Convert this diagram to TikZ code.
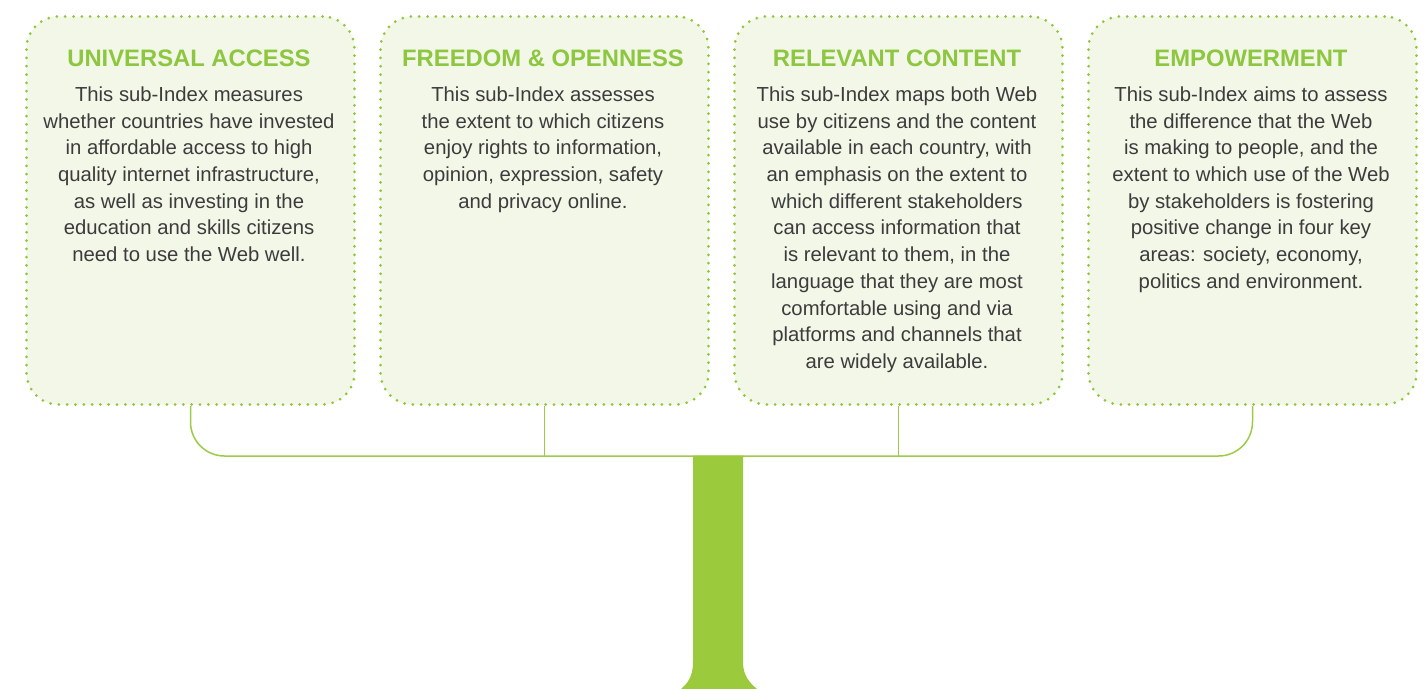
\documentclass[tikz,border=0pt]{standalone}
\usepackage{fontspec}
\setmainfont{Liberation Sans}
\definecolor{boxfill}{HTML}{F2F7E8}
\definecolor{dotgreen}{HTML}{8FC63A}
\definecolor{titlegreen}{HTML}{8DC63F}
\definecolor{linegreen}{HTML}{9CCB45}
\definecolor{trunkgreen}{HTML}{9BCA3C}
\definecolor{bodygray}{HTML}{3C3C3C}
\begin{document}
\begin{tikzpicture}[x=1pt,y=-1pt,
  subbox/.style={draw=dotgreen, fill=boxfill, rounded corners=32pt, line width=3pt,
    dash pattern=on 0pt off 8.3pt, line cap=round, minimum width=328pt, minimum height=388pt,
    inner sep=0pt, anchor=north west},
  boxtitle/.style={anchor=base, text=titlegreen, font=\fontsize{23.8}{27}\selectfont\bfseries, inner sep=0pt},
  boxbody/.style={anchor=north, text=bodygray, align=center, font=\fontsize{20.3}{26.7}\selectfont, inner sep=0pt},
  conn/.style={draw=linegreen, line width=1.5pt}
]
\useasboundingbox (0,0) rectangle (1424,688);

\node[subbox] (b1) at (25,15) {};
\node[subbox] (b2) at (379,15) {};
\node[subbox] (b3) at (733,15) {};
\node[subbox] (b4) at (1087,15) {};

\node[boxtitle] (t1) at (189,66.5) {UNIVERSAL ACCESS};
\node[boxtitle] (t2) at (543,66.5) {FREEDOM \& OPENNESS};
\node[boxtitle] (t3) at (897,66.5) {RELEVANT CONTENT};
\node[boxtitle] (t4) at (1251,66.5) {EMPOWERMENT};

\node[boxbody] (d1) at (189,86.5) {This sub-Index measures\\whether countries have invested\\in affordable access to high\\quality internet infrastructure,\\as well as investing in the\\education and skills citizens\\need to use the Web well.};
\node[boxbody] (d2) at (543,86.5) {This sub-Index assesses\\the extent to which citizens\\enjoy rights to information,\\opinion, expression, safety\\and privacy online.};
\node[boxbody] (d3) at (897,86.5) {This sub-Index maps both Web\\use by citizens and the content\\available in each country, with\\an emphasis on the extent to\\which different stakeholders\\can access information that\\is relevant to them, in the\\language that they are most\\comfortable using and via\\platforms and channels that\\are widely available.};
\node[boxbody] (d4) at (1251,86.5) {This sub-Index aims to assess\\the difference that the Web\\is making to people, and the\\extent to which use of the Web\\by stakeholders is fostering\\positive change in four key\\areas: society, economy,\\politics and environment.};

\coordinate (h) at (0,456);
\draw[conn, rounded corners=34pt] (b1.south) -- (b1.south |- h) -- (b4.south |- h) -- (b4.south);
\draw[conn] (b2.south) -- (b2.south |- h);
\draw[conn] (b3.south) -- (b3.south |- h);

\fill[trunkgreen] (693,455.5) -- (693,662) .. controls (693,676) and (688,683) .. (681,689)
  -- (757,689) .. controls (750,683) and (743,676) .. (743,662) -- (743,455.5) -- cycle;
\end{tikzpicture}
\end{document}
